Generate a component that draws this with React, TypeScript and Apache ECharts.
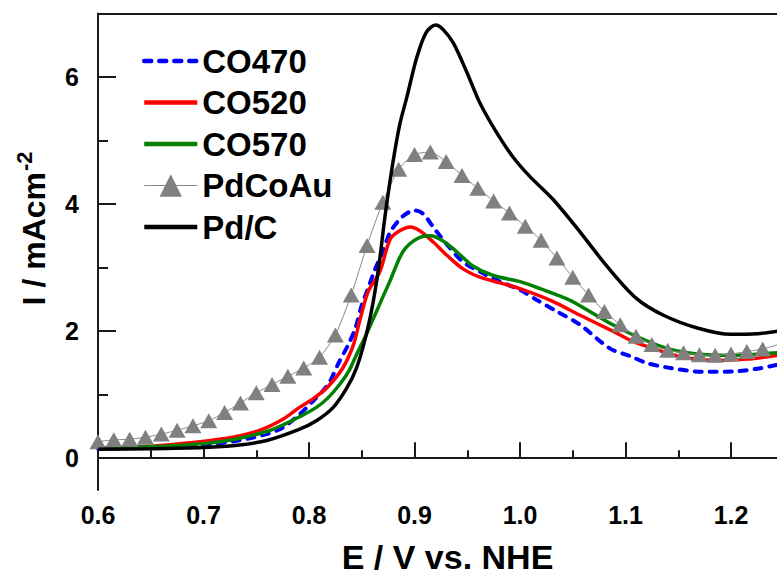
import React, { useEffect, useRef } from "react";
import * as echarts from "echarts";

const FONT = "'Liberation Sans', Arial, sans-serif";

// Axis ticks / labels
const xTickLabels = [0.6, 0.7, 0.8, 0.9, 1.0, 1.1, 1.2];
const xMinorTicks = [0.65, 0.75, 0.85, 0.95, 1.05, 1.15];
const yTickLabels = [0, 2, 4, 6];
const yMinorTicks = [1, 3, 5];

const seriesNames = ["CO470", "CO520", "CO570", "PdCoAu", "Pd/C"];

// CO470 (blue dashed)
const co470E = [0.60, 0.65, 0.70, 0.73, 0.76, 0.775, 0.791, 0.805, 0.818, 0.829, 0.837, 0.844, 0.850, 0.856, 0.862, 0.870, 0.877, 0.889, 0.900, 0.908, 0.919, 0.932, 0.946, 0.965, 0.981, 1.000, 1.016, 1.035, 1.057, 1.085, 1.104, 1.12, 1.139, 1.173, 1.206, 1.225, 1.244];
const co470I = [0.15, 0.17, 0.21, 0.27, 0.38, 0.48, 0.69, 0.92, 1.16, 1.53, 1.78, 2.05, 2.41, 2.67, 2.95, 3.25, 3.56, 3.81, 3.9, 3.85, 3.61, 3.34, 3.09, 2.91, 2.78, 2.65, 2.49, 2.31, 2.1, 1.73, 1.61, 1.5, 1.43, 1.36, 1.37, 1.41, 1.47];

// CO520 (red)
const co520E = [0.60, 0.65, 0.692, 0.73, 0.755, 0.776, 0.791, 0.805, 0.817, 0.832, 0.842, 0.848, 0.856, 0.867, 0.877, 0.886, 0.896, 0.905, 0.918, 0.931, 0.946, 0.962, 0.981, 1.000, 1.031, 1.057, 1.088, 1.107, 1.126, 1.152, 1.183, 1.215, 1.244];
const co520I = [0.16, 0.19, 0.25, 0.34, 0.45, 0.62, 0.80, 0.95, 1.11, 1.42, 1.78, 2.16, 2.62, 2.93, 3.45, 3.58, 3.64, 3.58, 3.4, 3.19, 2.98, 2.85, 2.76, 2.67, 2.47, 2.25, 2.0, 1.84, 1.73, 1.6, 1.54, 1.56, 1.62];

// CO570 (green)
const co570E = [0.60, 0.65, 0.70, 0.73, 0.76, 0.776, 0.792, 0.807, 0.818, 0.829, 0.838, 0.845, 0.853, 0.861, 0.869, 0.877, 0.889, 0.902, 0.915, 0.927, 0.940, 0.955, 0.974, 1.000, 1.019, 1.047, 1.063, 1.088, 1.114, 1.139, 1.168, 1.199, 1.244];
const co570I = [0.16, 0.18, 0.23, 0.30, 0.42, 0.53, 0.66, 0.80, 0.95, 1.16, 1.38, 1.63, 1.9, 2.2, 2.5, 2.8, 3.25, 3.45, 3.5, 3.42, 3.25, 3.03, 2.88, 2.78, 2.67, 2.49, 2.34, 2.1, 1.89, 1.73, 1.64, 1.62, 1.66];

// PdCoAu (gray triangles)
const pdcoauE = [0.6, 0.615, 0.63, 0.645, 0.66, 0.675, 0.69, 0.705, 0.72, 0.735, 0.75, 0.765, 0.78, 0.795, 0.81, 0.825, 0.84, 0.855, 0.87, 0.885, 0.9, 0.915, 0.93, 0.945, 0.96, 0.975, 0.99, 1.005, 1.02, 1.035, 1.05, 1.065, 1.08, 1.095, 1.11, 1.125, 1.14, 1.155, 1.17, 1.185, 1.2, 1.215, 1.23, 1.245];
const pdcoauI = [0.26, 0.29, 0.30, 0.33, 0.38, 0.44, 0.51, 0.59, 0.72, 0.87, 1.03, 1.16, 1.29, 1.42, 1.59, 1.94, 2.57, 3.35, 4.03, 4.55, 4.78, 4.82, 4.67, 4.45, 4.25, 4.05, 3.86, 3.65, 3.43, 3.15, 2.85, 2.57, 2.31, 2.10, 1.92, 1.79, 1.70, 1.66, 1.63, 1.62, 1.64, 1.68, 1.72, 1.79];

// Pd/C (black)
const pdcE = [0.60, 0.65, 0.70, 0.73, 0.76, 0.79, 0.807, 0.823, 0.836, 0.845, 0.852, 0.859, 0.866, 0.872, 0.879, 0.886, 0.893, 0.902, 0.911, 0.920, 0.927, 0.937, 0.950, 0.962, 0.978, 0.993, 1.009, 1.031, 1.057, 1.082, 1.11, 1.136, 1.168, 1.20, 1.225, 1.244];
const pdcI = [0.14, 0.15, 0.17, 0.20, 0.28, 0.45, 0.59, 0.80, 1.11, 1.42, 1.8, 2.3, 3.0, 3.8, 4.6, 5.25, 5.7, 6.3, 6.7, 6.82, 6.75, 6.53, 6.06, 5.59, 5.12, 4.75, 4.44, 4.08, 3.56, 3.03, 2.52, 2.25, 2.05, 1.95, 1.96, 2.0];

const zip = (xs: number[], ys: number[]) => xs.map((x, i) => [x, ys[i]]);

const X_MIN = 0.6;
const X_MAX = 1.2436;
const Y_MIN = -0.5;
const Y_MAX = 7;
const AXIS_COLOR = "#1a1a1a";

export default function App() {
  const ref = useRef<HTMLDivElement>(null);
  useEffect(() => {
    if (!ref.current) return;
    const chart = echarts.init(ref.current, undefined, { renderer: "svg" });
    const hidden = { show: false };
    const baseX = { type: "value", min: X_MIN, max: X_MAX, splitLine: hidden };
    const baseY = { type: "value", min: Y_MIN, max: Y_MAX, splitLine: hidden };
    const lineSeries = (name: string, data: number[][], color: string, extra: any = {}) => ({
      name,
      type: "line",
      data,
      symbol: "none",
      smooth: 0.3,
      lineStyle: { color, width: 3.5 },
      itemStyle: { color },
      ...extra,
    });
    const lineOnly = { opacity: 0, borderWidth: 0 };
    chart.setOption({
      animation: false,
      textStyle: { fontFamily: FONT, fontWeight: "bold" },
      grid: { left: 98, right: 0, top: 13.5, bottom: 85.5 },
      legend: {
        data: [
          { name: seriesNames[0], itemStyle: lineOnly, lineStyle: { width: 4.5 } },
          { name: seriesNames[1], itemStyle: lineOnly, lineStyle: { width: 4.5 } },
          { name: seriesNames[2], itemStyle: lineOnly, lineStyle: { width: 4.5 } },
          { name: seriesNames[3], lineStyle: { width: 1 } },
          { name: seriesNames[4], itemStyle: lineOnly, lineStyle: { width: 4.5 } },
        ],
        orient: "vertical",
        left: 142,
        top: 44.5,
        padding: 0,
        itemWidth: 53,
        itemHeight: 28,
        itemGap: 8.5,
        textStyle: { fontSize: 33, fontWeight: "bold", color: "#000", fontFamily: FONT },
      },
      xAxis: [
        {
          ...baseX,
          position: "bottom",
          axisLine: { show: true, lineStyle: { color: AXIS_COLOR, width: 2 } },
          axisTick: { show: true, inside: true, length: 16, customValues: xTickLabels, lineStyle: { color: AXIS_COLOR, width: 2 } },
          axisLabel: {
            customValues: xTickLabels,
            formatter: (v: number) => v.toFixed(1),
            fontSize: 25,
            fontWeight: "bold",
            color: "#000",
            margin: 12,
            fontFamily: FONT,
          },
          name: "E / V vs. NHE",
          nameLocation: "middle",
          nameGap: 50,
          nameTextStyle: { fontSize: 34, fontWeight: "bold", color: "#000", fontFamily: FONT, padding: [0, 0, 0, 20] },
        },
        {
          ...baseX,
          position: "bottom",
          axisLine: hidden,
          axisTick: { show: true, inside: true, length: 8, customValues: xMinorTicks, lineStyle: { color: AXIS_COLOR, width: 2 } },
          axisLabel: hidden,
        },
        {
          ...baseX,
          position: "top",
          axisLine: { show: true, lineStyle: { color: AXIS_COLOR, width: 2 } },
          axisTick: hidden,
          axisLabel: hidden,
        },
      ],
      yAxis: [
        {
          ...baseY,
          position: "left",
          axisLine: { show: true, lineStyle: { color: AXIS_COLOR, width: 2 } },
          axisTick: { show: true, inside: true, length: 18, customValues: yTickLabels, lineStyle: { color: AXIS_COLOR, width: 2 } },
          axisLabel: {
            customValues: yTickLabels,
            fontSize: 25,
            fontWeight: "bold",
            color: "#000",
            margin: 19,
            fontFamily: FONT,
          },
        },
        {
          ...baseY,
          position: "left",
          axisLine: hidden,
          axisTick: { show: true, inside: true, length: 10, customValues: yMinorTicks, lineStyle: { color: AXIS_COLOR, width: 2 } },
          axisLabel: hidden,
        },
      ],
      graphic: [
        {
          type: "group",
          x: 34,
          y: 172,
          rotation: Math.PI / 2,
          children: [
            {
              type: "text",
              x: 0,
              y: 0,
              style: {
                text: "I / mAcm",
                fill: "#000",
                font: `bold 32px ${FONT}`,
                align: "right",
                verticalAlign: "middle",
              },
            },
            {
              type: "text",
              x: 1,
              y: -10,
              style: {
                text: "-2",
                fill: "#000",
                font: `bold 22px ${FONT}`,
                align: "left",
                verticalAlign: "middle",
              },
            },
          ],
        },
      ],
      series: [
        lineSeries("CO470", zip(co470E, co470I), "#0000ff", {
          lineStyle: { color: "#0000ff", width: 4, type: [7, 8], cap: "round" },
          z: 2,
        }),
        lineSeries("CO520", zip(co520E, co520I), "#ff0000", { z: 3 }),
        lineSeries("CO570", zip(co570E, co570I), "#008000", { z: 4 }),
        {
          name: "PdCoAu",
          type: "line",
          data: zip(pdcoauE, pdcoauI),
          symbol: "triangle",
          symbolSize: [17, 15],
          showAllSymbol: true,
          smooth: 0.2,
          lineStyle: { color: "#888888", width: 1 },
          itemStyle: { color: "#808080" },
          z: 5,
        },
        lineSeries("Pd/C", zip(pdcE, pdcI), "#000000", { z: 6 }),
      ],
    });
    return () => chart.dispose();
  }, []);
  return (
    <div
      ref={ref}
      style={{ position: "fixed", left: 0, top: 0, width: 777, height: 579, background: "#fff" }}
    />
  );
}
